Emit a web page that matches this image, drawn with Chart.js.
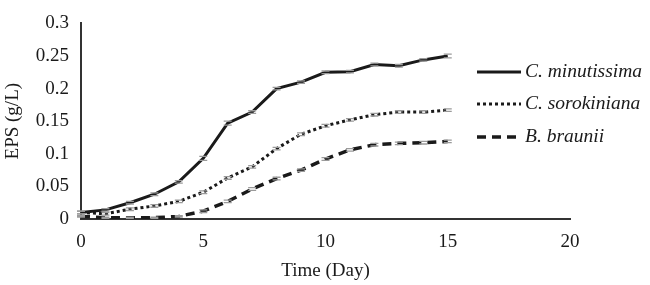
<!DOCTYPE html>
<html>
<head>
<meta charset="utf-8">
<script src="https://cdn.jsdelivr.net/npm/chart.js@4"></script>
<style>
  html, body { margin: 0; padding: 0; background: #fff; }
  #wrap { width: 650px; height: 285px; }
</style>
</head>
<body>
<div id="wrap"><canvas id="chart" width="650" height="285"></canvas></div>
<script>
const days = [0, 1, 2, 3, 4, 5, 6, 7, 8, 9, 10, 11, 12, 13, 14, 15];
const minutissima = [0.010, 0.014, 0.025, 0.038, 0.057, 0.093, 0.147, 0.164, 0.200, 0.210, 0.225, 0.226, 0.237, 0.235, 0.244, 0.250];
const sorokiniana = [0.010, 0.008, 0.015, 0.020, 0.027, 0.041, 0.063, 0.080, 0.108, 0.130, 0.143, 0.152, 0.160, 0.164, 0.164, 0.167];
const braunii = [0.004, 0.002, 0.002, 0.002, 0.004, 0.012, 0.027, 0.046, 0.062, 0.075, 0.092, 0.106, 0.114, 0.116, 0.117, 0.119];
const errMinutissima = [0.002, 0.002, 0.002, 0.002, 0.002, 0.003, 0.003, 0.002, 0.002, 0.002, 0.002, 0.002, 0.002, 0.002, 0.002, 0.003];
const errSorokiniana = [0.002, 0.002, 0.002, 0.002, 0.002, 0.002, 0.002, 0.002, 0.002, 0.002, 0.002, 0.002, 0.002, 0.002, 0.002, 0.002];
const errBraunii = [0.001, 0.001, 0.001, 0.001, 0.001, 0.002, 0.002, 0.002, 0.002, 0.002, 0.002, 0.002, 0.002, 0.002, 0.002, 0.002];
const seriesNames = ['C. minutissima', 'C. sorokiniana', 'B. braunii'];
const yTickLabels = ['0', '0.05', '0.1', '0.15', '0.2', '0.25', '0.3'];

const serif = "'Liberation Serif', 'Times New Roman', serif";
const ink = '#1a1a1a';

function pts(values) {
    return days.map((d, i) => ({ x: d, y: values[i] }));
}

// grey error caps on top of the lines
const errorBars = {
    id: 'errorBars',
    afterDatasetsDraw(chart) {
        const ctx = chart.ctx;
        const xs = chart.scales.x;
        const ys = chart.scales.y;
        ctx.save();
        ctx.strokeStyle = '#9a9a9a';
        ctx.lineWidth = 1.3;
        chart.data.datasets.forEach(ds => {
            ds.data.forEach((p, i) => {
                const e = ds.errors[i];
                const px = xs.getPixelForValue(p.x);
                const top = ys.getPixelForValue(p.y + e);
                const bot = ys.getPixelForValue(p.y - e);
                ctx.beginPath();
                ctx.moveTo(px - 4, top); ctx.lineTo(px + 4, top);
                ctx.moveTo(px - 4, bot); ctx.lineTo(px + 4, bot);
                ctx.stroke();
            });
        });
        ctx.restore();
    }
};

// legend on the right like the original figure
const sideLegend = {
    id: 'sideLegend',
    afterDraw(chart) {
        const ctx = chart.ctx;
        const rows = [72, 104, 137];
        ctx.save();
        chart.data.datasets.forEach((ds, i) => {
            const y = rows[i];
            ctx.strokeStyle = ds.borderColor;
            ctx.lineWidth = ds.borderWidth;
            ctx.setLineDash(ds.borderDash || []);
            ctx.beginPath();
            ctx.moveTo(477, y);
            ctx.lineTo(521, y);
            ctx.stroke();
            ctx.setLineDash([]);
            ctx.fillStyle = ink;
            ctx.font = "italic 19.5px " + serif;
            ctx.textBaseline = 'middle';
            ctx.textAlign = 'left';
            ctx.fillText(ds.label, 525, y);
        });
        ctx.restore();
    }
};

new Chart(document.getElementById('chart'), {
    type: 'line',
    data: {
        datasets: [
            {
                label: seriesNames[0],
                data: pts(minutissima),
                errors: errMinutissima,
                borderColor: ink,
                borderWidth: 3,
                pointRadius: 0,
                tension: 0
            },
            {
                label: seriesNames[1],
                data: pts(sorokiniana),
                errors: errSorokiniana,
                borderColor: ink,
                borderWidth: 3,
                borderDash: [3, 3],
                pointRadius: 0,
                tension: 0
            },
            {
                label: seriesNames[2],
                data: pts(braunii),
                errors: errBraunii,
                borderColor: ink,
                borderWidth: 3.5,
                borderDash: [9, 6],
                pointRadius: 0,
                tension: 0
            }
        ]
    },
    options: {
        responsive: false,
        animation: false,
        layout: { padding: { left: 0, top: 11, right: 80, bottom: 3 } },
        plugins: {
            legend: { display: false },
            tooltip: { enabled: false }
        },
        scales: {
            x: {
                type: 'linear',
                min: 0,
                max: 20,
                grid: { display: false, drawTicks: false },
                border: { display: true, color: '#333', width: 2 },
                ticks: {
                    stepSize: 5,
                    padding: 12,
                    color: ink,
                    font: { family: serif, size: 19 }
                },
                title: {
                    display: true,
                    text: 'Time (Day)',
                    color: ink,
                    font: { family: serif, size: 19 },
                    padding: { top: 2, bottom: 0 }
                },
                afterFit(scale) { scale.height = 63; }
            },
            y: {
                min: 0,
                max: 0.3,
                grid: { display: false, drawTicks: false },
                border: { display: true, color: '#333', width: 2 },
                ticks: {
                    stepSize: 0.05,
                    padding: 12,
                    color: ink,
                    font: { family: serif, size: 19 },
                    callback: (v, i) => yTickLabels[i]
                },
                title: {
                    display: true,
                    text: 'EPS (g/L)',
                    color: ink,
                    font: { family: serif, size: 19 },
                    padding: { top: 2, bottom: 0 }
                },
                afterFit(scale) { scale.width = 81; }
            }
        }
    },
    plugins: [errorBars, sideLegend]
});
</script>
</body>
</html>
